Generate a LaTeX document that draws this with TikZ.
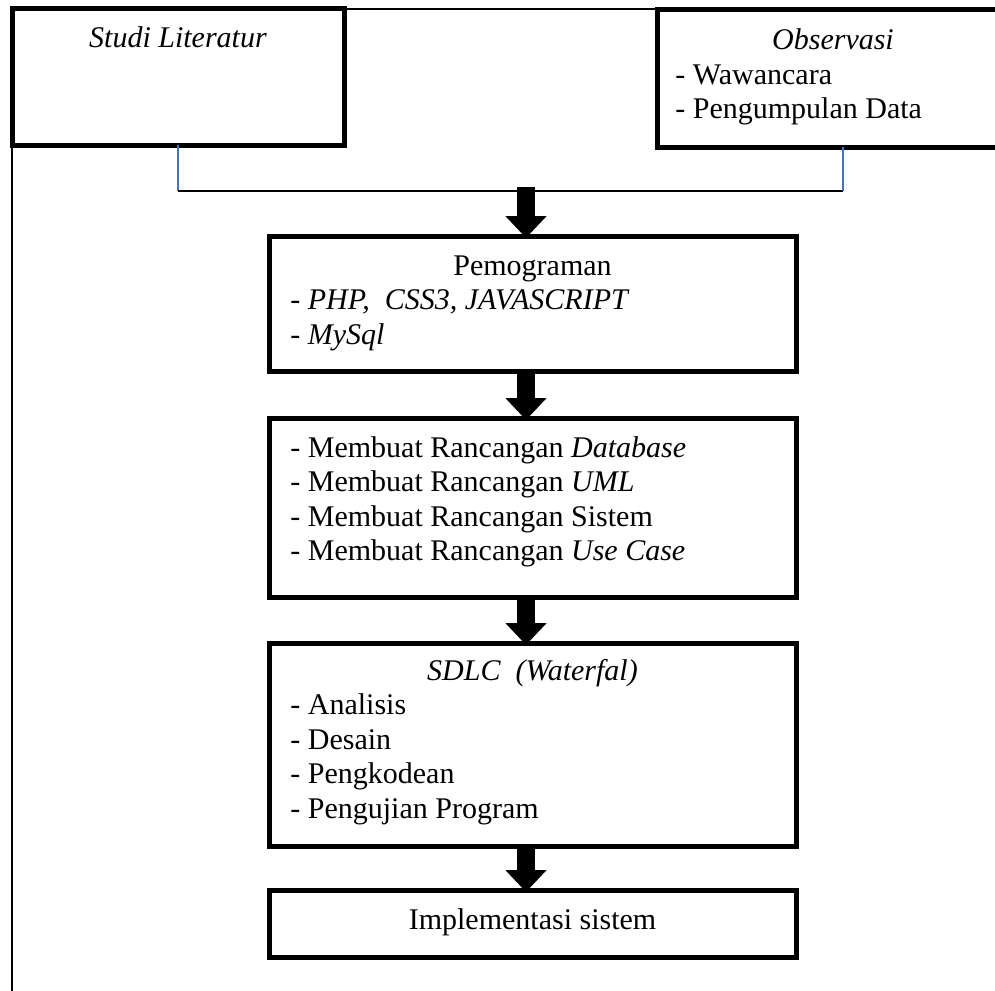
\documentclass[tikz,border=0pt]{standalone}
\usepackage{fontspec}
\setmainfont{Liberation Serif}
\usetikzlibrary{arrows.meta}
\definecolor{linkblue}{HTML}{4472C4}

\begin{document}
\begin{tikzpicture}[x=0.5pt,y=-0.5pt,
	box/.style={draw, line width=2.5pt, inner sep=0pt, outer sep=0pt, minimum width=263.5pt},
	txt/.style={inner sep=0pt, font=\fontsize{15pt}{17.25pt}\selectfont},
	flow/.style={line width=9pt, -{Triangle[width=20pt,length=11pt]}},
	thinline/.style={line width=0.6pt}]
	
	\useasboundingbox (0,0) rectangle (995,990);
	\clip (0,0) rectangle (995,990);
	
	% outer frame
	\draw[thinline] (1010,9) -- (12,9) -- (12,1010);
	
	% boxes
	\node[box, minimum width=166pt, minimum height=68pt] (studi) at (178,77) {};
	\node[box, minimum width=176pt, minimum height=68.5pt] (observasi) at (833,78.5) {};
	\node[box, minimum height=67.5pt] (pemrograman) at (532.5,303.5) {};
	\node[box, minimum height=89.5pt] (rancangan) at (532.5,507.5) {};
	\node[box, minimum height=101.5pt] (sdlc) at (532.5,744.5) {};
	\node[box, minimum height=33.5pt] (implementasi) at (532.5,923.5) {};
	
	% joining line
	\coordinate (lj) at (178,191);
	\coordinate (rj) at (843,191);
	\draw[thinline, linkblue] (studi.south) -- (lj);
	\draw[thinline] (lj) -- (rj);
	\draw[thinline, linkblue] (rj) -- (rj |- observasi.south);
	
	% arrows
	\coordinate (merge) at (526,187);
	\draw[flow] (merge) -- ([yshift=-1pt]merge |- pemrograman.north);
	\draw[flow] (merge |- pemrograman.south) -- ([yshift=-1pt]merge |- rancangan.north);
	\draw[flow] (merge |- rancangan.south) -- ([yshift=-1pt]merge |- sdlc.north);
	\draw[flow] (merge |- sdlc.south) -- ([yshift=-1pt]merge |- implementasi.north);
	
	% texts
	\node[txt, anchor=base] (studitxt) at (178,48) {\textit{Studi Literatur}};
	
	\node[txt, anchor=base] (obstxt) at (833,50) {\textit{Observasi}};
	\node[txt, anchor=base west] (obs1) at (675,84.5) {- Wawancara};
	\node[txt, anchor=base west] (obs2) at (675,119) {- Pengumpulan Data};
	
	\node[txt, anchor=base] (pemtxt) at (532.5,275) {Pemograman};
	\node[txt, anchor=base west] (pem1) at (290,309.5) {\textit{- PHP,\ \ CSS3, JAVASCRIPT}};
	\node[txt, anchor=base west] (pem2) at (290,344) {\textit{- MySql}};
	
	\node[txt, anchor=base west] (ran1) at (290,457) {- Membuat Rancangan \textit{Database}};
	\node[txt, anchor=base west] (ran2) at (290,491.5) {- Membuat Rancangan \textit{UML}};
	\node[txt, anchor=base west] (ran3) at (290,526) {- Membuat Rancangan Sistem};
	\node[txt, anchor=base west] (ran4) at (290,560.5) {- Membuat Rancangan \textit{Use Case}};
	
	\node[txt, anchor=base] (sdlctxt) at (532.5,680) {\textit{SDLC\ \ (Waterfal)}};
	\node[txt, anchor=base west] (sd1) at (290,714.5) {- Analisis};
	\node[txt, anchor=base west] (sd2) at (290,749) {- Desain};
	\node[txt, anchor=base west] (sd3) at (290,783.5) {- Pengkodean};
	\node[txt, anchor=base west] (sd4) at (290,818) {- Pengujian Program};
	
	\node[txt, anchor=base] (imptxt) at (532.5,929) {Implementasi sistem};
	
\end{tikzpicture}
\end{document}
